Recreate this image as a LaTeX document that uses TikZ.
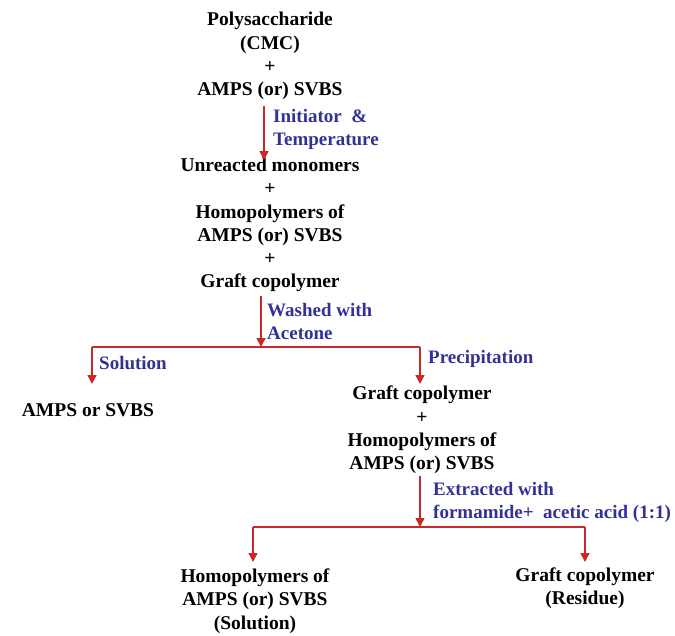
\documentclass[tikz,border=0pt]{standalone}
\usepackage{fontspec}
\setmainfont{Liberation Serif}
\usetikzlibrary{arrows.meta}
\definecolor{arrred}{RGB}{200,40,40}
\definecolor{lblblue}{RGB}{50,50,150}
\begin{document}
\begin{tikzpicture}[x=1pt,y=-1pt,
  txt/.style={font=\fontsize{19.5}{23.3}\selectfont\bfseries, align=center, inner sep=0pt},
  lbl/.style={font=\fontsize{19}{23}\selectfont\bfseries, text=lblblue, align=left, inner sep=0pt, anchor=west},
  flow/.style={draw=arrred, line width=1.5pt, -{Triangle[width=9pt,length=9pt]}},
  bar/.style={draw=arrred, line width=1.5pt}]
\useasboundingbox (0,0) rectangle (675,635);
\node[txt] (start) at (270,56) {Polysaccharide\\(CMC)\\+\\AMPS (or) SVBS};
\node[txt] (mix) at (270,225) {Unreacted monomers\\+\\Homopolymers of\\AMPS (or) SVBS\\+\\Graft copolymer};
\coordinate (a1s) at (264,106);
\coordinate (a1e) at (264,160);
\draw[flow] (a1s) -- (a1e);
\node[lbl] (l1) at (273,129) {Initiator \ \&\\Temperature};
\coordinate (a2s) at (261,296);
\coordinate (a2e) at (261,347);
\draw[flow] (a2s) -- (a2e);
\node[lbl] (l2) at (267,321) {Washed with\\Acetone};
\coordinate (hl) at (92,347);
\coordinate (hr) at (420,347);
\draw[bar] (hl) -- (hr);
\coordinate (sl) at (92,384);
\coordinate (sr) at (420,384);
\draw[flow] (hl) -- (sl);
\draw[flow] (hr) -- (sr);
\node[lbl] (l3) at (99,363) {Solution};
\node[lbl] (l4) at (428,359) {Precipitation};
\node[txt] (amps) at (88,410) {AMPS or SVBS};
\node[txt] (prec) at (422,430) {Graft copolymer\\+\\Homopolymers of\\AMPS (or) SVBS};
\coordinate (a3s) at (420,476);
\coordinate (a3e) at (420,527);
\draw[flow] (a3s) -- (a3e);
\node[lbl] (l5) at (433,502) {Extracted with\\formamide+ \ acetic acid (1:1)};
\coordinate (bl) at (253,527);
\coordinate (br) at (585,527);
\draw[bar] (bl) -- (br);
\coordinate (el) at (253,562);
\coordinate (er) at (585,562);
\draw[flow] (bl) -- (el);
\draw[flow] (br) -- (er);
\node[txt] (homo) at (255,601) {Homopolymers of\\AMPS (or) SVBS\\(Solution)};
\node[txt] (graft) at (585,588) {Graft copolymer\\(Residue)};
\end{tikzpicture}
\end{document}
